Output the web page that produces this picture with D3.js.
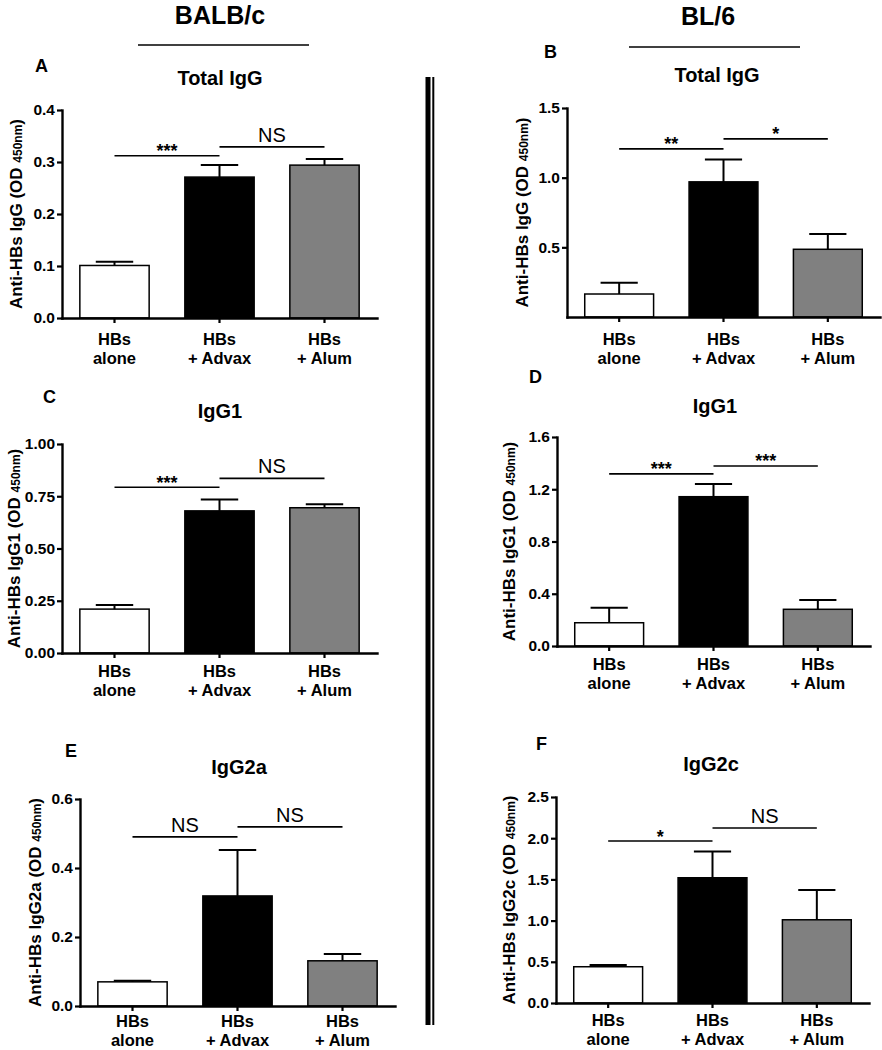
<!DOCTYPE html>
<html>
<head>
<meta charset="utf-8">
<script src="https://cdn.jsdelivr.net/npm/d3@7"></script>
<style>
  html, body { margin: 0; padding: 0; background: #fff; }
  svg { display: block; font-family: "Liberation Sans", Arial, Helvetica, sans-serif; }
</style>
</head>
<body>
<svg id="chart" width="882" height="1050"></svg>
<script>
// ---------- DATA ----------
const categories = [["HBs", "alone"], ["HBs", "+ Advax"], ["HBs", "+ Alum"]];
const strains = ["BALB/c", "BL/6"];
const panelIds = ["A", "B", "C", "D", "E", "F"];
const titles = ["Total IgG", "Total IgG", "IgG1", "IgG1", "IgG2a", "IgG2c"];
const yLabels = ["Anti-HBs IgG", "Anti-HBs IgG", "Anti-HBs IgG1", "Anti-HBs IgG1", "Anti-HBs IgG2a", "Anti-HBs IgG2c"];

const meansA = [0.101, 0.271, 0.294];
const errorsA = [0.007, 0.023, 0.012];
const meansB = [0.165, 0.970, 0.486];
const errorsB = [0.080, 0.160, 0.110];
const meansC = [0.210, 0.680, 0.695];
const errorsC = [0.020, 0.055, 0.017];
const meansD = [0.178, 1.143, 0.281];
const errorsD = [0.115, 0.097, 0.071];
const meansE = [0.070, 0.319, 0.131];
const errorsE = [0.003, 0.133, 0.020];
const meansF = [0.440, 1.520, 1.010];
const errorsF = [0.020, 0.320, 0.360];

const ticksA = [0, 0.1, 0.2, 0.3, 0.4];
const ticksB = [0.5, 1.0, 1.5];
const ticksC = [0, 0.25, 0.50, 0.75, 1.00];
const ticksD = [0, 0.4, 0.8, 1.2, 1.6];
const ticksE = [0, 0.2, 0.4, 0.6];
const ticksF = [0, 0.5, 1.0, 1.5, 2.0, 2.5];
const tickFormats = [".1f", ".1f", ".2f", ".1f", ".1f", ".1f"];

// significance comparisons: [from group, to group, label, bracket level (data units)]
const sigA = [[0, 1, "***", 0.312], [1, 2, "NS", 0.329]];
const sigB = [[0, 1, "**", 1.206], [1, 2, "*", 1.278]];
const sigC = [[0, 1, "***", 0.793], [1, 2, "NS", 0.836]];
const sigD = [[0, 1, "***", 1.317], [1, 2, "***", 1.378]];
const sigE = [[0, 1, "NS", 0.490], [1, 2, "NS", 0.519]];
const sigF = [[0, 1, "*", 1.966], [1, 2, "NS", 2.124]];

// ---------- LAYOUT / STYLE ----------
const fills = ["#ffffff", "#000000", "#808080"];
const layout = [
  { x: [62, 377],  y: [318, 110],  titleX: 220, titleY: 85,  letterX: 35,  letterY: 72,  ylabX: 21,  labDy: 27 },
  { x: [567, 880], y: [317, 108],  titleX: 717, titleY: 82,  letterX: 544, letterY: 58,  ylabX: 527, labDy: 28 },
  { x: [62, 377],  y: [653, 444],  titleX: 220, titleY: 418, letterX: 43,  letterY: 403, ylabX: 19,  labDy: 24 },
  { x: [557, 870], y: [646, 437],  titleX: 715, titleY: 413, letterX: 529, letterY: 383, ylabX: 514, labDy: 24 },
  { x: [80, 395],  y: [1006, 799], titleX: 239, titleY: 774, letterX: 65,  letterY: 757, ylabX: 40,  labDy: 21 },
  { x: [556, 869], y: [1003, 797], titleX: 711, titleY: 771, letterX: 536, letterY: 750, ylabX: 514, labDy: 23 }
];
const panelMeans = [meansA, meansB, meansC, meansD, meansE, meansF];
const panelErrors = [errorsA, errorsB, errorsC, errorsD, errorsE, errorsF];
const panelTicks = [ticksA, ticksB, ticksC, ticksD, ticksE, ticksF];
const panelSigs = [sigA, sigB, sigC, sigD, sigE, sigF];

const svg = d3.select("#chart");

// ---------- HEADERS ----------
const headers = [
  { x: 220, y: 24, lx: [138, 309], ly: 45 },
  { x: 708, y: 25, lx: [629, 800], ly: 47 }
];
strains.forEach((s, i) => {
  const h = headers[i];
  svg.append("text").attr("x", h.x).attr("y", h.y).attr("text-anchor", "middle")
    .attr("font-size", 25).attr("font-weight", "bold").text(s);
  svg.append("line").attr("x1", h.lx[0]).attr("x2", h.lx[1]).attr("y1", h.ly).attr("y2", h.ly)
    .attr("stroke", "#000").attr("stroke-width", 1.5);
});

// ---------- DIVIDER ----------
svg.append("rect").attr("x", 425.5).attr("y", 77).attr("width", 5).attr("height", 948).attr("fill", "#000");
svg.append("rect").attr("x", 432.3).attr("y", 77).attr("width", 2).attr("height", 948).attr("fill", "#000");

// ---------- PANELS ----------
panelIds.forEach((id, p) => {
  const L = layout[p];
  const means = panelMeans[p], errs = panelErrors[p], ticks = panelTicks[p];
  const g = svg.append("g");

  const x = d3.scaleBand().domain(d3.range(categories.length)).range(L.x)
    .paddingInner(0.34).paddingOuter(0.17);
  const y = d3.scaleLinear().domain([0, d3.max(ticks)]).range(L.y);

  // bars
  g.selectAll("rect.bar").data(means).join("rect")
    .attr("class", "bar")
    .attr("x", (d, i) => x(i))
    .attr("width", x.bandwidth())
    .attr("y", d => y(d))
    .attr("height", d => y(0) - y(d))
    .attr("fill", (d, i) => fills[i])
    .attr("stroke", "#000").attr("stroke-width", 1.5);

  // error bars (upper only)
  const capW = x.bandwidth() * 0.54;
  means.forEach((m, i) => {
    const cx = x(i) + x.bandwidth() / 2;
    g.append("line").attr("x1", cx).attr("x2", cx).attr("y1", y(m)).attr("y2", y(m + errs[i]))
      .attr("stroke", "#000").attr("stroke-width", 2);
    g.append("line").attr("x1", cx - capW / 2).attr("x2", cx + capW / 2)
      .attr("y1", y(m + errs[i])).attr("y2", y(m + errs[i]))
      .attr("stroke", "#000").attr("stroke-width", 2);
  });

  // y axis
  const yAxis = g.append("g").attr("transform", `translate(${L.x[0]},0)`)
    .call(d3.axisLeft(y).tickValues(ticks).tickSize(5).tickSizeOuter(0).tickPadding(2)
      .tickFormat(d3.format(tickFormats[p])));
  yAxis.select(".domain").attr("stroke-width", 2.4).attr("stroke-linecap", "square");
  yAxis.selectAll(".tick line").attr("stroke-width", 2.2);
  yAxis.selectAll(".tick text").attr("font-size", 15.5).attr("font-weight", "bold")
    .attr("font-family", "'Liberation Sans', Arial, sans-serif").attr("fill", "#000");

  // x axis
  const xAxis = g.append("g").attr("transform", `translate(0,${L.y[0]})`)
    .call(d3.axisBottom(x).tickSize(5).tickSizeOuter(0).tickFormat(() => ""));
  xAxis.select(".domain").attr("stroke-width", 2.4).attr("stroke-linecap", "square");
  xAxis.selectAll(".tick line").attr("stroke-width", 2.2);

  categories.forEach((c, i) => {
    c.forEach((line, k) => {
      g.append("text").attr("text-anchor", "middle")
        .attr("font-size", 16.5).attr("font-weight", "bold")
        .attr("x", x(i) + x.bandwidth() / 2)
        .attr("y", L.y[0] + L.labDy + k * 18.6).text(line);
    });
  });

  // y label
  const yc = (L.y[0] + L.y[1]) / 2;
  const yl = g.append("text").attr("transform", `translate(${L.ylabX + 1},${yc}) rotate(-90)`)
    .attr("text-anchor", "middle").attr("font-size", 17).attr("font-weight", "bold");
  yl.append("tspan").text(yLabels[p] + " (OD ");
  yl.append("tspan").attr("font-size", 12).text("450nm");
  yl.append("tspan").text(")");

  // title
  g.append("text").attr("x", L.titleX).attr("y", L.titleY).attr("text-anchor", "middle")
    .attr("font-size", 20).attr("font-weight", "bold").text(titles[p]);

  // panel letter
  g.append("text").attr("x", L.letterX).attr("y", L.letterY)
    .attr("font-size", 18).attr("font-weight", "bold").text(id);

  // significance brackets
  panelSigs[p].forEach(([a, b, lab, lev]) => {
    const xa = x(a) + x.bandwidth() / 2, xb = x(b) + x.bandwidth() / 2;
    const yy = y(lev);
    g.append("line").attr("x1", xa).attr("x2", xb).attr("y1", yy).attr("y2", yy)
      .attr("stroke", "#000").attr("stroke-width", 1.7);
    const isNS = lab === "NS";
    g.append("text").attr("x", (xa + xb) / 2).attr("y", isNS ? yy - 5 : yy + 1.5)
      .attr("text-anchor", "middle")
      .attr("font-size", isNS ? 20 : 18)
      .attr("font-weight", isNS ? "normal" : "bold")
      .text(lab);
  });
});
</script>
</body>
</html>
